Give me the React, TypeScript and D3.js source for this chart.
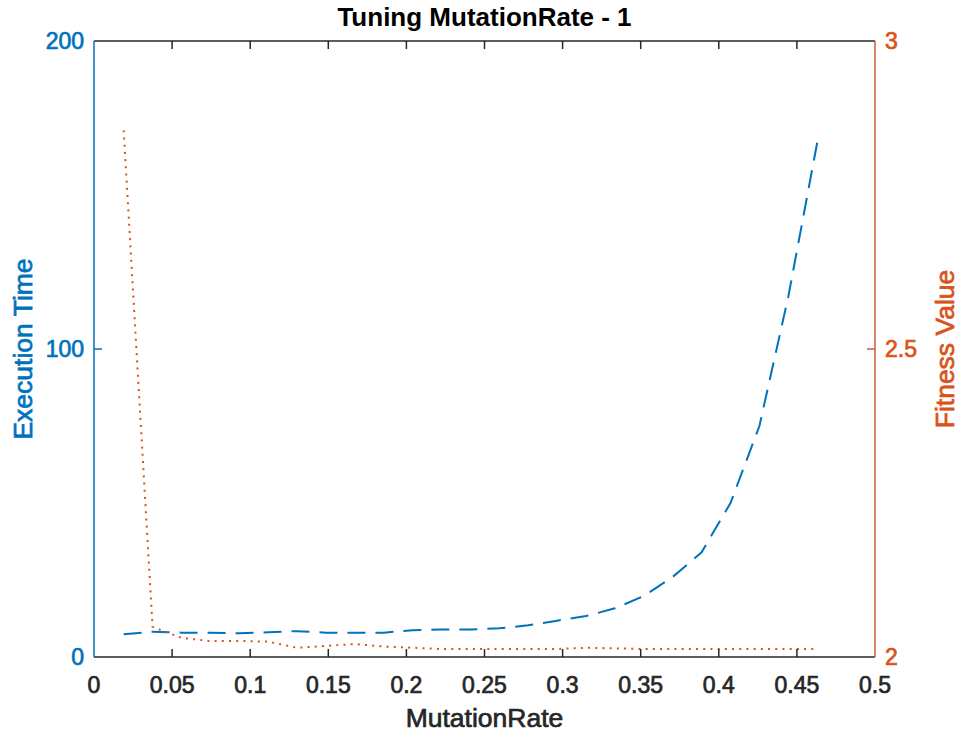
import React from "react";
import * as d3 from "d3";

const mutationRate = [0.019, 0.0375, 0.056, 0.0745, 0.093, 0.1115, 0.13, 0.1485, 0.167, 0.1855, 0.204, 0.2225, 0.241, 0.2595, 0.278, 0.2965, 0.315, 0.3335, 0.352, 0.3705, 0.389, 0.4075, 0.426, 0.4445, 0.463];
const executionTime = [7.4, 8.2, 7.9, 7.9, 7.7, 8.0, 8.4, 7.9, 7.9, 7.9, 8.7, 8.9, 8.9, 9.3, 10.3, 11.8, 13.3, 15.8, 19.8, 26, 34, 50, 75, 117, 167];
const fitnessValue = [2.855, 2.049, 2.031, 2.026, 2.026, 2.025, 2.015, 2.018, 2.021, 2.017, 2.015, 2.013, 2.013, 2.013, 2.013, 2.013, 2.015, 2.014, 2.013, 2.013, 2.013, 2.013, 2.013, 2.013, 2.013];

const xTicks = [0, 0.05, 0.1, 0.15, 0.2, 0.25, 0.3, 0.35, 0.4, 0.45, 0.5];
const xTickLabels = ["0", "0.05", "0.1", "0.15", "0.2", "0.25", "0.3", "0.35", "0.4", "0.45", "0.5"];
const leftTicks = [0, 100, 200];
const rightTicks = [2, 2.5, 3];
const rightTickLabels = ["2", "2.5", "3"];

const title = "Tuning MutationRate - 1";
const xLabel = "MutationRate";
const leftLabel = "Execution Time";
const rightLabel = "Fitness Value";

const W = 959, H = 733;
const L = 94, R = 875, T = 41, B = 657;
const BLUE = "#0072BD";
const ORANGE = "#D95319";
const AXIS_ORANGE = "#C4603D";
const DARK = "#262626";
const FONT = "'Liberation Sans', Arial, Helvetica, sans-serif";
const SEMI = 0.7;

export default function App() {
  const x = d3.scaleLinear().domain([0, 0.5]).range([L, R]);
  const yL = d3.scaleLinear().domain([0, 200]).range([B, T]);
  const yR = d3.scaleLinear().domain([2, 3]).range([B, T]);

  const blueLine = d3.line<number>().x((_, i) => x(mutationRate[i])).y((d) => yL(d))(executionTime) || "";
  const redLine = d3.line<number>().x((_, i) => x(mutationRate[i])).y((d) => yR(d))(fitnessValue) || "";

  const tickLen = 8;

  return (
    <svg width={W} height={H} style={{ position: "absolute", left: 0, top: 0, background: "#fff" }} fontFamily={FONT}>
      <rect x={0} y={0} width={W} height={H} fill="#fff" />
      {/* data */}
      <path d={blueLine} fill="none" stroke={BLUE} strokeWidth={2} strokeDasharray="18,10" />
      <path d={redLine} fill="none" stroke={ORANGE} strokeWidth={2} strokeDasharray="2,5.2" />

      {/* top & bottom axes */}
      <line x1={L} x2={R} y1={B} y2={B} stroke={DARK} strokeWidth={1.5} />
      <line x1={L} x2={R} y1={T} y2={T} stroke={DARK} strokeWidth={1.5} />
      {xTicks.map((t, i) => (
        <g key={"xt" + i}>
          {i > 0 && i < xTicks.length - 1 && (
            <>
              <line x1={x(t)} x2={x(t)} y1={B} y2={B - tickLen} stroke={DARK} strokeWidth={1.5} />
              <line x1={x(t)} x2={x(t)} y1={T} y2={T + tickLen} stroke={DARK} strokeWidth={1.5} />
            </>
          )}
          <text x={x(t)} y={693} textAnchor="middle" fontSize={23} fill={DARK} stroke={DARK} strokeWidth={SEMI}>
            {xTickLabels[i]}
          </text>
        </g>
      ))}

      {/* left axis */}
      <line x1={L} x2={L} y1={T} y2={B} stroke={BLUE} strokeWidth={1.5} />
      {leftTicks.map((t, i) => (
        <g key={"lt" + i}>
          {i > 0 && i < leftTicks.length - 1 && (
            <line x1={L} x2={L + tickLen} y1={yL(t)} y2={yL(t)} stroke={BLUE} strokeWidth={1.5} />
          )}
          <text x={84} y={yL(t) + 8.3} textAnchor="end" fontSize={23} fill={BLUE} stroke={BLUE} strokeWidth={SEMI}>
            {t}
          </text>
        </g>
      ))}

      {/* right axis */}
      <line x1={R} x2={R} y1={T} y2={B} stroke={AXIS_ORANGE} strokeWidth={1.5} />
      {rightTicks.map((t, i) => (
        <g key={"rt" + i}>
          {i > 0 && i < rightTicks.length - 1 && (
            <line x1={R} x2={R - tickLen} y1={yR(t)} y2={yR(t)} stroke={AXIS_ORANGE} strokeWidth={1.5} />
          )}
          <text x={885} y={yR(t) + 8.3} textAnchor="start" fontSize={23} fill={ORANGE} stroke={ORANGE} strokeWidth={SEMI}>
            {rightTickLabels[i]}
          </text>
        </g>
      ))}

      {/* labels */}
      <text x={(L + R) / 2} y={26} textAnchor="middle" fontSize={26} fontWeight="bold" fill="#000">
        {title}
      </text>
      <text x={(L + R) / 2} y={727} textAnchor="middle" fontSize={26.5} fill={DARK} stroke={DARK} strokeWidth={SEMI}>
        {xLabel}
      </text>
      <text transform={`translate(32,${(T + B) / 2}) rotate(-90)`} textAnchor="middle" fontSize={26.5} fill={BLUE} stroke={BLUE} strokeWidth={SEMI}>
        {leftLabel}
      </text>
      <text transform={`translate(954,${(T + B) / 2}) rotate(-90)`} textAnchor="middle" fontSize={26.5} fill={ORANGE} stroke={ORANGE} strokeWidth={SEMI}>
        {rightLabel}
      </text>
    </svg>
  );
}
